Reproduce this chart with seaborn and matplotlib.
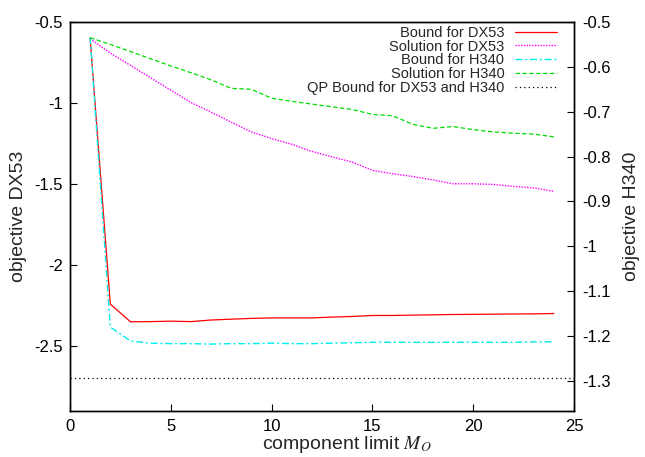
import matplotlib
matplotlib.use("Agg")
import matplotlib.pyplot as plt
import seaborn as sns
from matplotlib.ticker import FormatStrFormatter

# component limit M_O
m_o = list(range(1, 25))

# left axis (DX53)
bound_dx53 = [-0.600, -2.242, -2.351, -2.350, -2.347, -2.350, -2.340, -2.335,
              -2.330, -2.327, -2.327, -2.327, -2.322, -2.318, -2.312, -2.312,
              -2.310, -2.308, -2.306, -2.305, -2.304, -2.303, -2.302, -2.300]
solution_dx53 = [-0.605, -0.692, -0.768, -0.845, -0.921, -0.997, -1.057, -1.119,
                 -1.179, -1.220, -1.255, -1.299, -1.333, -1.365, -1.416, -1.437,
                 -1.454, -1.475, -1.499, -1.499, -1.503, -1.515, -1.524, -1.546]
qp_bound = -2.70

# right axis (H340)
bound_h340 = [-0.534, -1.180, -1.211, -1.216, -1.217, -1.217, -1.218, -1.217,
              -1.217, -1.216, -1.217, -1.217, -1.216, -1.215, -1.214, -1.214,
              -1.214, -1.214, -1.214, -1.214, -1.214, -1.214, -1.213, -1.213]
solution_h340 = [-0.535, -0.550, -0.566, -0.582, -0.598, -0.613, -0.629, -0.648,
                 -0.650, -0.670, -0.677, -0.683, -0.689, -0.695, -0.706, -0.709,
                 -0.728, -0.737, -0.733, -0.740, -0.745, -0.748, -0.750, -0.756]

left_ticks = [-2.5, -2, -1.5, -1, -0.5]
right_ticks = [-1.3, -1.2, -1.1, -1, -0.9, -0.8, -0.7, -0.6, -0.5]
x_ticks = [0, 5, 10, 15, 20, 25]

sns.set_style("ticks")
plt.rcParams["font.family"] = ["Liberation Sans", "DejaVu Sans"]
plt.rcParams["mathtext.fontset"] = "stix"
plt.rcParams["axes.unicode_minus"] = False

fig = plt.figure(figsize=(6.45, 4.57), dpi=100)
ax = fig.add_axes([0.1085, 0.1013, 0.7814, 0.8506])
ax2 = ax.twinx()

sns.lineplot(x=m_o, y=bound_dx53, ax=ax, color="#ff0000", lw=0.9,
             label="Bound for DX53", legend=False)
sns.lineplot(x=m_o, y=solution_dx53, ax=ax, color="#ff00ff", lw=1.0,
             linestyle=(0, (1, 1)), label="Solution for DX53", legend=False)
qp_line = ax.axhline(qp_bound, color="black", lw=0.9, linestyle=(0, (1, 2.5)),
                     label="QP Bound for DX53 and H340")

sns.lineplot(x=m_o, y=bound_h340, ax=ax2, color="#00eeee", lw=1.0,
             linestyle=(0, (5, 2, 1.5, 2)), label="Bound for H340", legend=False)
sns.lineplot(x=m_o, y=solution_h340, ax=ax2, color="#00dd00", lw=0.9,
             linestyle=(0, (3.5, 2)), label="Solution for H340", legend=False)

ax.set_xlim(0, 25)
ax.set_ylim(-2.9, -0.5)
ax2.set_ylim(-1.3665, -0.5)
ax.set_xticks(x_ticks)
ax.set_yticks(left_ticks)
ax2.set_yticks(right_ticks)
ax.yaxis.set_major_formatter(FormatStrFormatter("%g"))
ax2.yaxis.set_major_formatter(FormatStrFormatter("%g"))

for a in (ax, ax2):
    for s in a.spines.values():
        s.set_visible(True)
        s.set_linewidth(1.0)
        s.set_color("black")
ax.tick_params(axis="both", direction="in", length=5, width=0.8, labelsize=12,
               colors="black", pad=5)
ax.tick_params(axis="x", pad=6)
ax.tick_params(axis="y", right=False, labelright=False)
ax2.tick_params(axis="y", direction="in", length=5, width=0.8, labelsize=12,
                colors="black", pad=6)

ax.set_xlabel(r"component limit $M_O$", fontsize=14)
ax.xaxis.set_label_coords(0.55, -0.061)
ax.set_ylabel("objective DX53", fontsize=14, labelpad=5)
ax2.set_ylabel("objective H340", fontsize=14, labelpad=9)

h1, l1 = ax.get_legend_handles_labels()
h2, l2 = ax2.get_legend_handles_labels()
order = {lab: h for h, lab in zip(h1 + h2, l1 + l2)}
labels = ["Bound for DX53", "Solution for DX53", "Bound for H340",
          "Solution for H340", "QP Bound for DX53 and H340"]
ax2.legend([order[k] for k in labels], labels, loc="upper right",
           bbox_to_anchor=(0.966, 0.99), frameon=False, markerfirst=False,
           fontsize=10.5, handlelength=2.9, handletextpad=0.7, labelspacing=-0.02,
           borderpad=0, borderaxespad=0)

fig.savefig("out.png", dpi=100)
